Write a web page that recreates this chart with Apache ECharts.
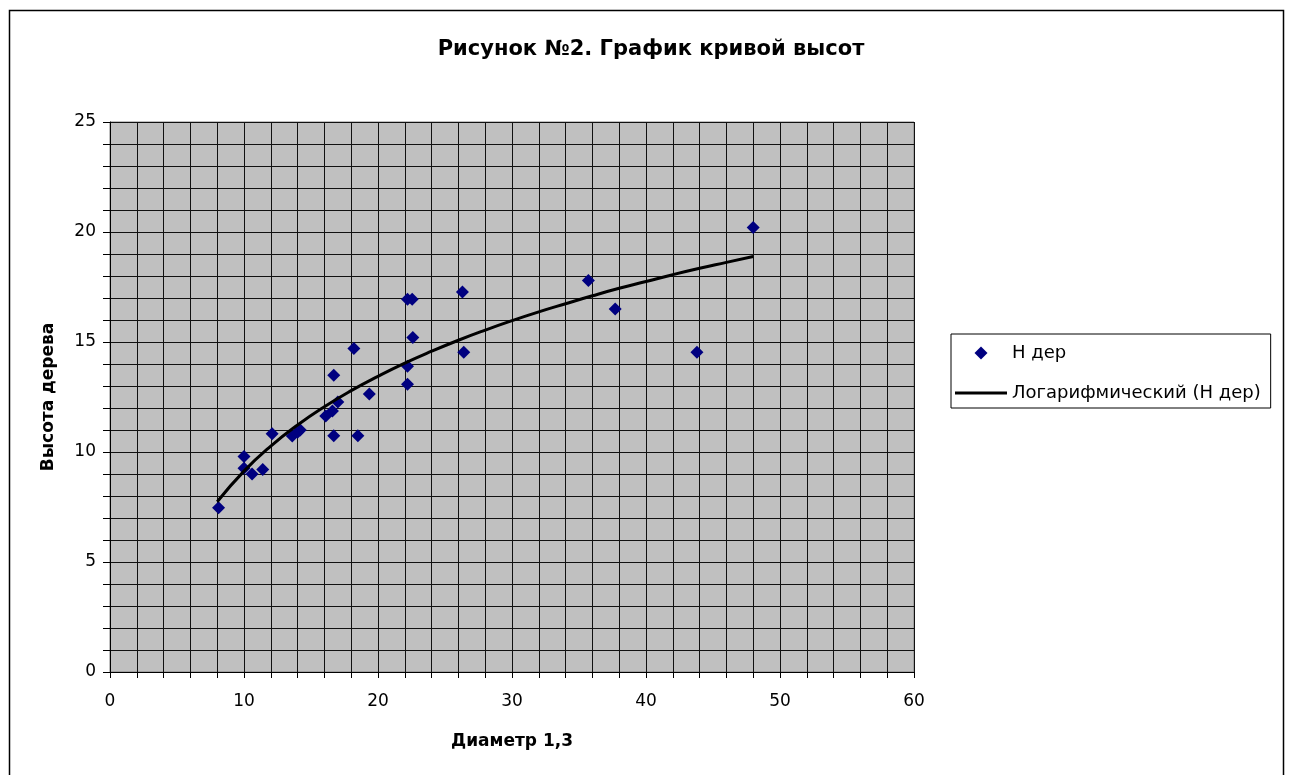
<!DOCTYPE html>
<html><head><meta charset="utf-8">
<script src="https://cdn.jsdelivr.net/npm/echarts@6/dist/echarts.min.js"></script>
<style>html,body{margin:0;padding:0;background:#fff}#c{width:1289px;height:775px}</style>
</head><body><div id="c"></div>
<script>
// Scatter data: diameter (x) and tree height (y)
const diam = [8.1, 10.0, 10.0, 10.6, 11.4, 12.1, 13.6, 14.0, 14.2, 16.1, 16.6, 17.0, 16.7, 18.5, 16.7, 18.2, 19.35, 22.2, 22.55, 22.6, 22.2, 22.2, 26.3, 26.4, 35.7, 37.7, 43.8, 48.0];
const height = [7.47, 9.8, 9.26, 9.0, 9.2, 10.83, 10.73, 10.9, 11.0, 11.64, 11.86, 12.27, 10.74, 10.74, 13.49, 14.71, 12.64, 16.94, 16.94, 15.21, 13.9, 13.08, 17.27, 14.53, 17.79, 16.5, 14.53, 20.2];
// Logarithmic trendline points
const trendX = [8, 10, 12, 14, 16, 18, 20, 22, 24, 26, 28, 30, 32, 34, 36, 38, 40, 42, 44, 46, 48];
const trendY = [7.74, 9.13, 10.27, 11.23, 12.06, 12.79, 13.44, 14.04, 14.58, 15.08, 15.54, 15.97, 16.37, 16.74, 17.10, 17.44, 17.75, 18.06, 18.35, 18.62, 18.89];
const title = 'Рисунок №2. График кривой высот';
const xName = 'Диаметр 1,3';
const yName = 'Высота дерева';
const seriesNames = ['Н дер', 'Логарифмический (Н дер)'];

const font = '"DejaVu Sans", Arial, sans-serif';
const chart = echarts.init(document.getElementById('c'), null, {renderer: 'canvas'});
chart.setOption({
  animation: false,
  backgroundColor: '#fff',
  title: {
    text: title, left: 646, top: 34, textAlign: 'center',
    textStyle: {fontFamily: font, fontSize: 21, fontWeight: 'bold', color: '#000'}
  },
  legend: {
    left: 951, top: 334, orient: 'vertical',
    padding: [10, 10, 6, 4], itemGap: 22, itemWidth: 52, itemHeight: 13,
    symbolKeepAspect: true,
    backgroundColor: '#fff', borderColor: '#000', borderWidth: 1,
    textStyle: {fontFamily: font, fontSize: 18, color: '#000'},
    data: [
      {name: seriesNames[0], icon: 'path://M0,5 L5,0 L10,5 L5,10 Z', itemStyle: {color: '#000080', opacity: 1}},
      {name: seriesNames[1], icon: 'path://M0,0 L52,0 L52,3 L0,3 Z', itemStyle: {color: '#000', opacity: 1}}
    ]
  },
  grid: {
    left: 110, top: 122, width: 804, height: 550, show: true,
    backgroundColor: '#c0c0c0', borderColor: '#808080', borderWidth: 1
  },
  xAxis: {
    type: 'value', min: 0, max: 60, interval: 10,
    name: xName, nameLocation: 'middle', nameGap: 61,
    nameTextStyle: {fontFamily: font, fontSize: 17, fontWeight: 'bold', color: '#000'},
    axisLine: {show: true, lineStyle: {color: '#000', width: 1}},
    axisTick: {show: true, length: 6, lineStyle: {color: '#000'}},
    minorTick: {show: true, splitNumber: 5, length: 6, lineStyle: {color: '#000'}},
    splitLine: {show: true, lineStyle: {color: '#111', width: 1}},
    minorSplitLine: {show: true, lineStyle: {color: '#111', width: 1}},
    axisLabel: {fontFamily: font, fontSize: 17, color: '#000', margin: 21}
  },
  yAxis: {
    type: 'value', min: 0, max: 25, interval: 5,
    name: yName, nameLocation: 'middle', nameGap: 53, nameRotate: 90,
    nameTextStyle: {fontFamily: font, fontSize: 17, fontWeight: 'bold', color: '#000'},
    axisLine: {show: true, lineStyle: {color: '#000', width: 1}},
    axisTick: {show: true, length: 7, lineStyle: {color: '#000'}},
    minorTick: {show: true, splitNumber: 5, length: 7, lineStyle: {color: '#000'}},
    splitLine: {show: true, lineStyle: {color: '#111', width: 1}},
    minorSplitLine: {show: true, lineStyle: {color: '#111', width: 1}},
    axisLabel: {fontFamily: font, fontSize: 17, color: '#000', margin: 14}
  },
  series: [
    {
      name: seriesNames[0], type: 'scatter',
      symbol: 'path://M0,5 L5,0 L10,5 L5,10 Z', symbolSize: 13,
      itemStyle: {color: '#000080', opacity: 1},
      data: diam.map((d, i) => [d, height[i]]), z: 3
    },
    {
      name: seriesNames[1], type: 'line', smooth: true, showSymbol: false, symbol: 'none',
      lineStyle: {color: '#000', width: 3},
      itemStyle: {color: '#000'},
      data: trendX.map((d, i) => [d, trendY[i]]), z: 4
    }
  ],
  graphic: [
    {type: 'rect', shape: {x: 9.5, y: 10.5, width: 1274, height: 800},
     style: {fill: 'none', stroke: '#000', lineWidth: 1.5}, silent: true, z: 100}
  ]
});
</script>
</body></html>
